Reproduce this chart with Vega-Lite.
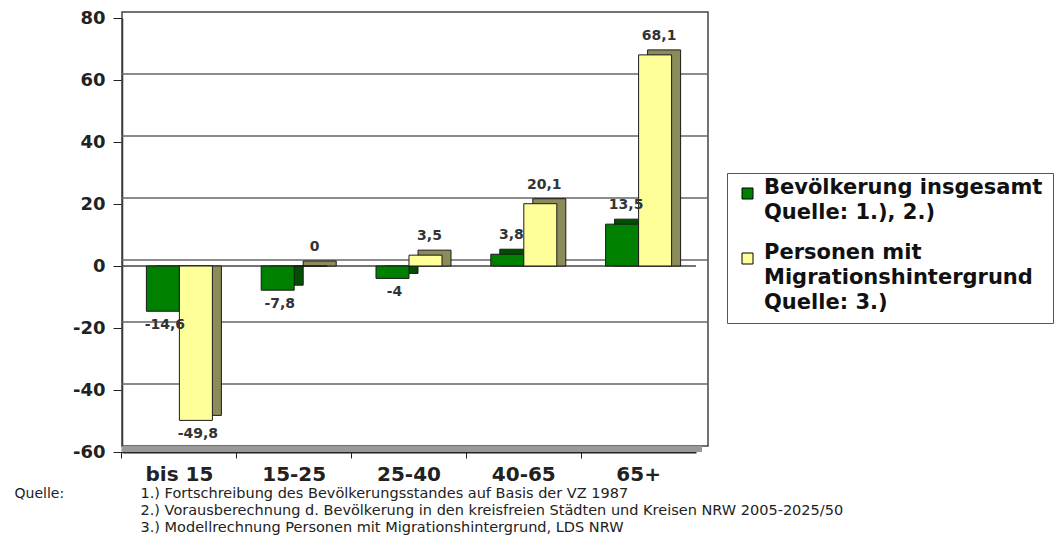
{
  "$schema": "https://vega.github.io/schema/vega-lite/v6.json",
  "autosize": {"type": "none"},
  "padding": {"left": 122, "top": 18, "right": 368, "bottom": 102},
  "width": 574,
  "height": 434,
  "background": "white",
  "data": {
    "values": [
      {"age": "bis 15", "series": "Bevölkerung insgesamt", "v": -14.6},
      {"age": "bis 15", "series": "Personen mit Migrationshintergrund", "v": -49.8},
      {"age": "15-25", "series": "Bevölkerung insgesamt", "v": -7.8},
      {"age": "15-25", "series": "Personen mit Migrationshintergrund", "v": 0},
      {"age": "25-40", "series": "Bevölkerung insgesamt", "v": -4},
      {"age": "25-40", "series": "Personen mit Migrationshintergrund", "v": 3.5},
      {"age": "40-65", "series": "Bevölkerung insgesamt", "v": 3.8},
      {"age": "40-65", "series": "Personen mit Migrationshintergrund", "v": 20.1},
      {"age": "65+", "series": "Bevölkerung insgesamt", "v": 13.5},
      {"age": "65+", "series": "Personen mit Migrationshintergrund", "v": 68.1}
    ]
  },
  "layer": [
    {
      "data": {"values": [{}]},
      "mark": {"type": "rect", "fill": null, "stroke": "#444", "strokeWidth": 1.5, "xOffset": 12, "x2Offset": 12, "yOffset": -6, "y2Offset": -6},
      "encoding": {
        "y": {"datum": 80, "type": "quantitative", "scale": {"domain": [-60, 80], "nice": false}},
        "y2": {"datum": -60}
      }
    },
    {
      "data": {"values": [{"g": -40}, {"g": -20}, {"g": 0}, {"g": 20}, {"g": 40}, {"g": 60}]},
      "mark": {"type": "rule", "color": "#666", "strokeWidth": 1.5, "xOffset": 12, "x2Offset": 12, "yOffset": -6},
      "encoding": {"y": {"field": "g", "type": "quantitative", "scale": {"domain": [-60, 80], "nice": false}}}
    },
    {
      "data": {"values": [{}]},
      "mark": {"type": "rule", "color": "#999", "strokeWidth": 6, "xOffset": 6, "x2Offset": 6, "yOffset": -3},
      "encoding": {"y": {"datum": -60, "type": "quantitative", "scale": {"domain": [-60, 80], "nice": false}}}
    },
    {
      "data": {"values": [{}]},
      "mark": {"type": "rule", "color": "#444", "strokeWidth": 1.5},
      "encoding": {"y": {"datum": 0, "type": "quantitative", "scale": {"domain": [-60, 80], "nice": false}}}
    },
    {
      "transform": [{"filter": "datum.series == 'Bevölkerung insgesamt'"}],
      "mark": {"type": "bar", "size": 33, "color": "#005000", "stroke": "#1a1a1a", "strokeWidth": 1, "xOffset": -7.5, "x2Offset": -7.5, "yOffset": -5, "y2Offset": -5},
      "encoding": {
        "x": {"field": "age", "type": "nominal", "sort": ["bis 15", "15-25", "25-40", "40-65", "65+"], "scale": {"paddingInner": 0.425, "paddingOuter": 0.2125}},
        "y": {"field": "v", "type": "quantitative", "stack": null, "scale": {"domain": [-60, 80], "nice": false}}
      }
    },
    {
      "transform": [{"filter": "datum.series == 'Personen mit Migrationshintergrund'"}],
      "mark": {"type": "bar", "size": 33, "color": "#8C8C5A", "stroke": "#1a1a1a", "strokeWidth": 1, "xOffset": 25.5, "x2Offset": 25.5, "yOffset": -5, "y2Offset": -5},
      "encoding": {
        "x": {"field": "age", "type": "nominal", "sort": ["bis 15", "15-25", "25-40", "40-65", "65+"], "scale": {"paddingInner": 0.425, "paddingOuter": 0.2125}},
        "y": {"field": "v", "type": "quantitative", "stack": null, "scale": {"domain": [-60, 80], "nice": false}}
      }
    },
    {
      "mark": {"type": "bar", "stroke": "#1a1a1a", "strokeWidth": 1},
      "encoding": {
        "x": {
          "field": "age",
          "type": "nominal",
          "sort": ["bis 15", "15-25", "25-40", "40-65", "65+"],
          "scale": {"paddingInner": 0.425, "paddingOuter": 0.2125},
          "axis": {
            "orient": "bottom",
            "bandPosition": -0.3696,
            "domainColor": "#222",
            "domainWidth": 2,
            "tickColor": "#222",
            "tickSize": 6,
            "labelPadding": 6,
            "labelAngle": 0,
            "labelAlign": "center",
            "labelBaseline": "top",
            "labelFont": "DejaVu Sans",
            "labelFontWeight": "bold",
            "labelFontSize": 20,
            "labelColor": "#222",
            "title": ["1.) Fortschreibung des Bevölkerungsstandes auf Basis der VZ 1987", "2.) Vorausberechnung d. Bevölkerung in den kreisfreien Städten und Kreisen NRW 2005-2025/50", "3.) Modellrechnung Personen mit Migrationshintergrund, LDS NRW"],
            "titleX": 18,
            "titleY": 45,
            "titleAlign": "left",
            "titleBaseline": "alphabetic",
            "titleFont": "DejaVu Sans",
            "titleFontWeight": "normal",
            "titleFontSize": 14.5,
            "titleLineHeight": 17,
            "titleLimit": 2000,
            "titleColor": "#222"
          }
        },
        "xOffset": {"field": "series", "type": "nominal", "sort": ["Bevölkerung insgesamt", "Personen mit Migrationshintergrund"], "scale": {"paddingInner": 0, "paddingOuter": 0}},
        "y": {
          "field": "v",
          "type": "quantitative",
          "stack": null,
          "scale": {"domain": [-60, 80], "nice": false},
          "axis": {
            "values": [-60, -40, -20, 0, 20, 40, 60, 80],
            "grid": false,
            "domainColor": "#222",
            "domainWidth": 1.5,
            "tickColor": "#222",
            "tickSize": 9,
            "labelPadding": 8,
            "labelFont": "DejaVu Sans",
            "labelFontWeight": "bold",
            "labelFontSize": 18,
            "labelColor": "#222",
            "labelExpr": "'' + datum.value",
            "title": "Quelle:",
            "titleAngle": 0,
            "titleX": -108,
            "titleY": 479,
            "titleAlign": "left",
            "titleBaseline": "alphabetic",
            "titleFont": "DejaVu Sans",
            "titleFontWeight": "normal",
            "titleFontSize": 14,
            "titleColor": "#222"
          }
        },
        "color": {
          "field": "series",
          "type": "nominal",
          "scale": {"domain": ["Bevölkerung insgesamt", "Personen mit Migrationshintergrund"], "range": ["#008000", "#FFFF99"]},
          "legend": {
            "orient": "none",
            "legendX": 605,
            "legendY": 155,
            "title": null,
            "symbolType": "square",
            "symbolSize": 121,
            "symbolStrokeColor": "#000",
            "symbolStrokeWidth": 1,
            "symbolOpacity": 1,
            "labelFont": "DejaVu Sans",
            "labelFontWeight": "bold",
            "labelFontSize": 21,
            "labelBaseline": "alphabetic",
            "labelOffset": 6,
            "labelLimit": 500,
            "labelColor": "#111",
            "padding": 10,
            "rowPadding": 18,
            "strokeColor": "#555",
            "fillColor": "white",
            "labelExpr": "datum.label == 'Bevölkerung insgesamt' ? ['Bevölkerung insgesamt', 'Quelle: 1.), 2.)'] : ['Personen mit', 'Migrationshintergrund', 'Quelle: 3.)']"
          }
        }
      }
    },
    {
      "transform": [{"filter": "datum.v >= 0"}, {"calculate": "replace('' + datum.v, '.', ',')", "as": "lbl"}],
      "mark": {"type": "text", "baseline": "alphabetic", "dy": -15, "dx": 4, "font": "DejaVu Sans", "fontWeight": "bold", "fontSize": 14, "color": "#333"},
      "encoding": {
        "x": {"field": "age", "type": "nominal", "sort": ["bis 15", "15-25", "25-40", "40-65", "65+"], "scale": {"paddingInner": 0.425, "paddingOuter": 0.2125}},
        "xOffset": {"field": "series", "type": "nominal", "sort": ["Bevölkerung insgesamt", "Personen mit Migrationshintergrund"], "scale": {"paddingInner": 0, "paddingOuter": 0}},
        "y": {"field": "v", "type": "quantitative", "scale": {"domain": [-60, 80], "nice": false}},
        "text": {"field": "lbl"}
      }
    },
    {
      "transform": [{"filter": "datum.v < 0"}, {"calculate": "replace('' + datum.v, '.', ',')", "as": "lbl"}],
      "mark": {"type": "text", "baseline": "top", "dy": 7, "dx": 2, "font": "DejaVu Sans", "fontWeight": "bold", "fontSize": 14, "color": "#333"},
      "encoding": {
        "x": {"field": "age", "type": "nominal", "sort": ["bis 15", "15-25", "25-40", "40-65", "65+"], "scale": {"paddingInner": 0.425, "paddingOuter": 0.2125}},
        "xOffset": {"field": "series", "type": "nominal", "sort": ["Bevölkerung insgesamt", "Personen mit Migrationshintergrund"], "scale": {"paddingInner": 0, "paddingOuter": 0}},
        "y": {"field": "v", "type": "quantitative", "scale": {"domain": [-60, 80], "nice": false}},
        "text": {"field": "lbl"}
      }
    }
  ],
  "config": {"view": {"stroke": null}, "style": {"guide-label": {"lineHeight": 25}}}
}
